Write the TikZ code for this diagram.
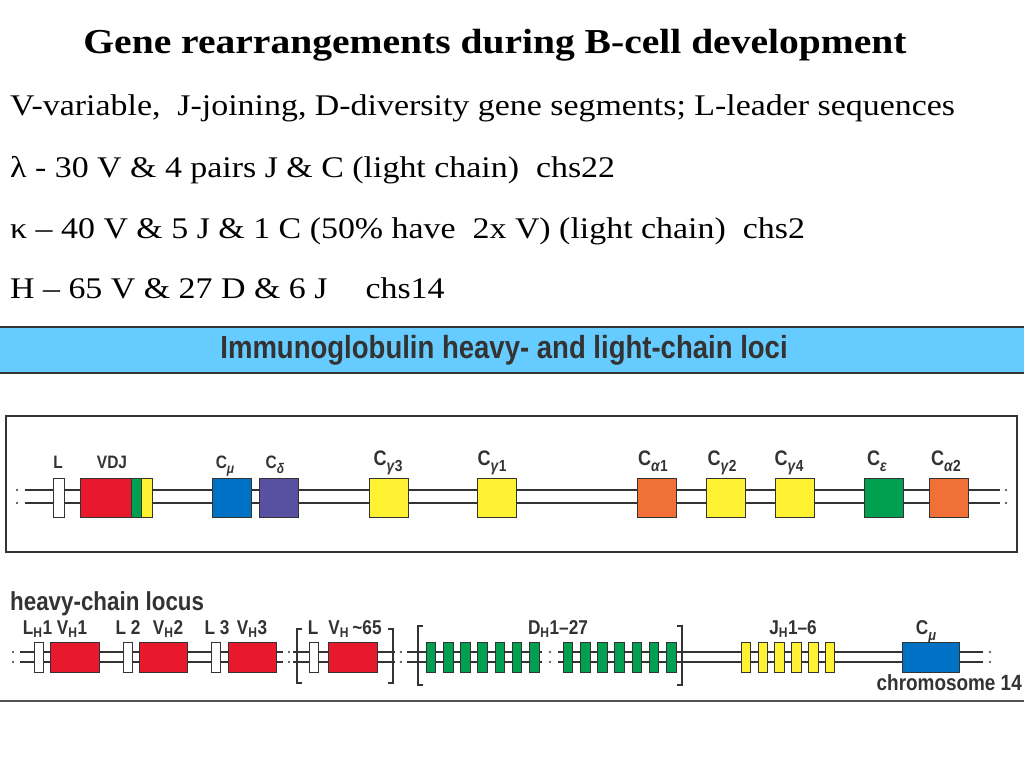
\documentclass[tikz,border=0pt]{standalone}
\usepackage{fontspec}
\setmainfont{Liberation Serif}[FakeStretch=1.13]
\newfontfamily\lblfont[FakeStretch=0.86]{Liberation Sans}
\usetikzlibrary{positioning}
\definecolor{linegray}{RGB}{51,51,51}
\definecolor{genered}{RGB}{232,25,44}
\definecolor{genegreen}{RGB}{0,160,80}
\definecolor{geneyellow}{RGB}{255,242,50}
\definecolor{geneblue}{RGB}{0,114,198}
\definecolor{genepurple}{RGB}{88,80,160}
\definecolor{geneorange}{RGB}{240,112,56}
\definecolor{bannerblue}{RGB}{102,204,255}
\newcommand{\segsub}[2]{\raisebox{-0.3em}{\fontsize{#1}{#1}\selectfont #2}}
\tikzset{
  seg/.style={draw=linegray, line width=0.9pt, inner sep=0pt},
  cbox/.style={seg, minimum width=39, minimum height=39},
  hbox/.style={seg, minimum height=30},
  dna/.style={linegray, line width=1.3pt},
  lbl/.style={font=\lblfont\bfseries\fontsize{18}{20}\selectfont, text=linegray, inner sep=0pt, anchor=base},
  biglbl/.style={lbl, font=\lblfont\bfseries\fontsize{21}{23}\selectfont},
  hlbl/.style={lbl, font=\lblfont\bfseries\fontsize{20}{22}\selectfont},
  txt/.style={inner sep=0pt, anchor=base west, font=\fontsize{30}{32}\selectfont}
}
\begin{document}
\begin{tikzpicture}[x=1pt,y=-1pt]
      \useasboundingbox (0,0) rectangle (1024,768);
      \fill[white] (0,0) rectangle (1024,768);
      % text above
      \node[txt, anchor=base, font=\bfseries\fontsize{35}{37}\selectfont] (title) at (495,53) {Gene rearrangements during B-cell development};
      \node[txt] (segs) at (10,115) {V-variable,\ \ J-joining, D-diversity gene segments; L-leader sequences};
      \node[txt] (lambda) at (10,177) {λ - 30 V \& 4 pairs J \& C (light chain)\ \ chs22};
      \node[txt] (kappa) at (10,238) {κ – 40 V \& 5 J \& 1 C (50\% have\ \ 2x V) (light chain)\ \ chs2};
      \node[txt] (heavy) at (10,298) {H – 65 V \& 27 D \& 6 J\hspace{38pt}chs14};
      % banner
      \fill[bannerblue] (0,327) rectangle (1024,373);
      \draw[linegray, line width=2pt] (0,327) -- (1024,327) (0,373) -- (1024,373);
      \node[lbl, anchor=center, font=\lblfont\bfseries\fontsize{32}{34}\selectfont] (banner) at (504,350) {Immunoglobulin heavy- and light-chain loci};
      % rearranged heavy chain
      \draw[linegray, line width=1.4pt] (6,416) rectangle (1017,552);
      \draw[dna] (25,490) -- (1000,490) (25,503) -- (1000,503);
      \foreach \xd in {17,1006} \fill[linegray] (\xd,490) circle (1.2) (\xd,503) circle (1.2);
      \node[seg, fill=white, minimum width=11, minimum height=39] (lead) at (58.5,497.5) {};
      \node[seg, fill=genered, minimum width=51, minimum height=39] (vdjv) at (105.5,497.5) {};
      \node[seg, fill=genegreen, minimum width=10, minimum height=39] (vdjd) at (136,497.5) {};
      \node[seg, fill=geneyellow, minimum width=11, minimum height=39] (vdjj) at (146.5,497.5) {};
      \node[cbox, fill=geneblue] (cmu) at (231.5,497.5) {};
      \node[cbox, fill=genepurple] (cdelta) at (278.5,497.5) {};
      \node[cbox, fill=geneyellow] (cg3) at (388.5,497.5) {};
      \node[cbox, fill=geneyellow] (cg1) at (496.5,497.5) {};
      \node[cbox, fill=geneorange] (ca1) at (656.5,497.5) {};
      \node[cbox, fill=geneyellow] (cg2) at (726,497.5) {};
      \node[cbox, fill=geneyellow] (cg4) at (795,497.5) {};
      \node[cbox, fill=genegreen] (ceps) at (883.5,497.5) {};
      \node[cbox, fill=geneorange] (ca2) at (949,497.5) {};
      \node[lbl] at (58,468) {L};
      \node[lbl] at (112,468) {VDJ};
      \node[lbl] at (225,468) {C\segsub{14}{\textit{μ}}};
      \node[lbl] at (275,468) {C\segsub{14}{\textit{δ}}};
      \node[biglbl] at (388,465) {C\segsub{16}{\textit{γ}3}};
      \node[biglbl] at (492,465) {C\segsub{16}{\textit{γ}1}};
      \node[biglbl] at (653,465) {C\segsub{16}{\textit{α}1}};
      \node[biglbl] at (722,465) {C\segsub{16}{\textit{γ}2}};
      \node[biglbl] at (789,465) {C\segsub{16}{\textit{γ}4}};
      \node[biglbl] at (877,465) {C\segsub{16}{\textit{ε}}};
      \node[biglbl] at (946,465) {C\segsub{16}{\textit{α}2}};
      % germline heavy-chain locus
      \node[lbl, anchor=base west, font=\lblfont\bfseries\fontsize{26}{28}\selectfont] (locus) at (10,610) {heavy-chain locus};
      \draw[dna] (20,652) -- (283,652) (20,662) -- (283,662);
      \draw[dna] (293,652) -- (395,652) (293,662) -- (395,662);
      \draw[dna] (407,652) -- (542,652) (407,662) -- (542,662);
      \draw[dna] (558,652) -- (983,652) (558,662) -- (983,662);
      \foreach \xd in {13,289,401,550,990} \fill[linegray] (\xd,652) circle (1.2) (\xd,662) circle (1.2);
      \draw[linegray, line width=1.1pt] (302,629) -- (297,629) -- (297,683) -- (302,683);
      \draw[linegray, line width=1.1pt] (388,629) -- (393,629) -- (393,683) -- (388,683);
      \draw[linegray, line width=1.1pt] (423,626) -- (418,626) -- (418,685) -- (423,685);
      \draw[linegray, line width=1.1pt] (677,626) -- (682,626) -- (682,685) -- (677,685);
      \node[hbox, fill=white, minimum width=9] (lh1) at (39,657) {};
      \node[hbox, fill=genered, minimum width=49] (vh1) at (74.5,657) {};
      \node[hbox, fill=white, minimum width=9] (lh2) at (127.5,657) {};
      \node[hbox, fill=genered, minimum width=48] (vh2) at (163,657) {};
      \node[hbox, fill=white, minimum width=9] (lh3) at (216,657) {};
      \node[hbox, fill=genered, minimum width=48] (vh3) at (252,657) {};
      \node[hbox, fill=white, minimum width=9] (lhn) at (314,657) {};
      \node[hbox, fill=genered, minimum width=49] (vhn) at (352.5,657) {};
      \foreach \i in {0,...,6} {
        \node[hbox, fill=genegreen, minimum width=9.5] (da\i) at (431+17.2*\i,657) {};
        \node[hbox, fill=genegreen, minimum width=9.5] (db\i) at (568+17.2*\i,657) {};
      }
      \foreach \i in {0,...,5}
        \node[hbox, fill=geneyellow, minimum width=9.5] (jh\i) at (746+16.8*\i,657) {};
      \node[hbox, fill=geneblue, minimum width=57] (cmuh) at (930.5,657) {};
      \node[hlbl] at (37.5,634) {L\textsubscript{H}1};
      \node[hlbl] at (72,634) {V\textsubscript{H}1};
      \node[hlbl] at (128,634) {L 2};
      \node[hlbl] at (168,634) {V\textsubscript{H}2};
      \node[hlbl] at (217,634) {L 3};
      \node[hlbl] at (252,634) {V\textsubscript{H}3};
      \node[hlbl] at (313,634) {L};
      \node[hlbl] at (355,634) {V\textsubscript{H}\,\textasciitilde65};
      \node[hlbl] at (558,634) {D\textsubscript{H}1–27};
      \node[hlbl] at (793,634) {J\textsubscript{H}1–6};
      \node[hlbl] at (926,634) {C\segsub{15}{\textit{μ}}};
      \node[hlbl, anchor=base east, font=\lblfont\bfseries\fontsize{22}{24}\selectfont] (chrom) at (1022,690) {chromosome 14};
      \draw[linegray!85, line width=2.5pt] (0,701) -- (1024,701);
      \end{tikzpicture}
\end{document}
